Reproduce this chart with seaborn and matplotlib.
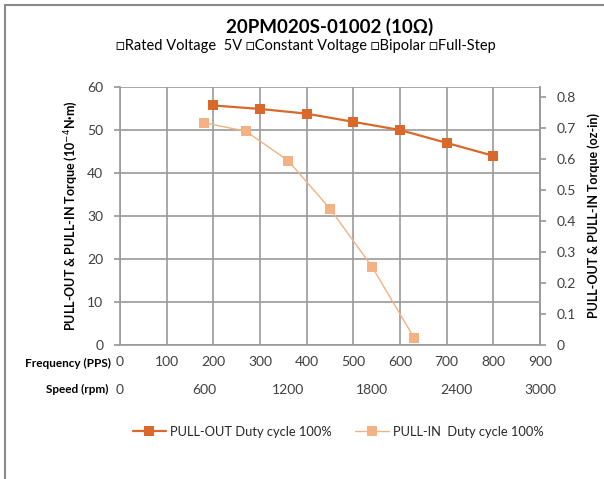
import matplotlib
matplotlib.use("Agg")
import matplotlib.pyplot as plt
import seaborn as sns
import pandas as pd
from matplotlib.lines import Line2D

# ---- data ----
pullout_freq = [200, 300, 400, 500, 600, 700, 800]
pullout_torque = [55.7, 54.9, 53.8, 51.9, 50.0, 47.0, 44.0]
pullin_freq = [180, 270, 360, 450, 540, 630]
pullin_torque = [51.7, 49.7, 42.9, 31.7, 18.2, 1.7]
freq_ticks = [0, 100, 200, 300, 400, 500, 600, 700, 800, 900]
speed_ticks = [0, 600, 1200, 1800, 2400, 3000]
torque_ticks = [0, 10, 20, 30, 40, 50, 60]
oz_ticks = [0, 0.1, 0.2, 0.3, 0.4, 0.5, 0.6, 0.7, 0.8]
title = "20PM020S-01002 (10Ω)"
subtitle = "□Rated Voltage  5V □Constant Voltage □Bipolar □Full-Step"
series_names = ["PULL-OUT Duty cycle 100%", "PULL-IN  Duty cycle 100%"]

sns.set_theme(style="white")
plt.rcParams['font.family'] = ['Lato', 'DejaVu Sans']

W, H = 604, 479
fig = plt.figure(figsize=(W / 100, H / 100), dpi=100)
L, R, T, B = 120, 540, 87, 345
ax = fig.add_axes([L / W, 1 - B / H, (R - L) / W, (B - T) / H])

c_out = "#D9692B"
c_in = "#F4B183"
grid_c = "#9a9a9a"
txt_c = "#404040"

df_out = pd.DataFrame({"f": pullout_freq, "t": pullout_torque})
df_in = pd.DataFrame({"f": pullin_freq, "t": pullin_torque})
sns.lineplot(data=df_out, x="f", y="t", ax=ax, color=c_out, lw=1.6,
             marker="s", markersize=7, markeredgewidth=0, zorder=4)
sns.lineplot(data=df_in, x="f", y="t", ax=ax, color=c_in, lw=1.0,
             marker="s", markersize=7, markeredgewidth=0, zorder=3)

ax.set_xlim(0, 900)
ax.set_ylim(0, 60)
ax.set_xticks(freq_ticks)
ax.set_yticks(torque_ticks)
ax.set_xlabel("")
ax.set_ylabel("PULL-OUT & PULL-IN Torque (10$^{-4}$N·m)", fontsize=9,
              fontweight="bold", color="black", labelpad=5)
ax.grid(True, color=grid_c, lw=1.2)
ax.set_axisbelow(True)
ax.spines["top"].set_visible(False)
for s in ["left", "bottom", "right"]:
    ax.spines[s].set_color(grid_c)
    ax.spines[s].set_linewidth(1.2)
ax.tick_params(axis="y", length=4, color=grid_c, labelsize=10, labelcolor=txt_c, pad=8, left=True)
ax.tick_params(axis="x", length=0, labelsize=10, labelcolor=txt_c, pad=8)

k = 0.833 / 60
sec_y = ax.secondary_yaxis("right", functions=(lambda y: y * k, lambda y: y / k))
sec_y.set_yticks(oz_ticks)
sec_y.set_yticklabels(["0"] + [f"{v:.1f}" for v in oz_ticks[1:]])
sec_y.tick_params(length=4, color=grid_c, labelsize=10, labelcolor=txt_c, pad=8)
sec_y.spines["right"].set_color(grid_c)
sec_y.set_ylabel("PULL-OUT & PULL-IN Torque (oz-in)", fontsize=9,
                 fontweight="bold", color="black", labelpad=8)

sec_x = ax.secondary_xaxis("bottom", functions=(lambda f: f * 10 / 3, lambda s: s * 0.3))
sec_x.set_xticks(speed_ticks)
sec_x.tick_params(length=0, labelsize=10, labelcolor=txt_c, pad=28)
sec_x.spines["bottom"].set_visible(False)

fig.text(111 / W, 1 - 363 / H, "Frequency (PPS)", ha="right", va="center",
         fontsize=8.5, fontweight="bold", color="black")
fig.text(108 / W, 1 - 389 / H, "Speed (rpm)", ha="right", va="center",
         fontsize=8.5, fontweight="bold", color="black")

fig.text(330 / W, 1 - 27 / H, title, ha="center", va="center",
         fontsize=13.5, fontweight="bold", color="black")
fig.text(306 / W, 1 - 46 / H, subtitle, ha="center", va="center",
         fontsize=10.5, color="black", family=['Lato', 'DejaVu Sans'])

handles = [Line2D([], [], color=c_out, lw=1.6, marker="s", markersize=7, markeredgewidth=0),
           Line2D([], [], color=c_in, lw=1.0, marker="s", markersize=7, markeredgewidth=0)]
fig.legend(handles, series_names, loc="center", bbox_to_anchor=(338 / W, 1 - 432 / H),
           ncol=2, frameon=False, fontsize=9.3, columnspacing=1.8, handlelength=2.6,
           handletextpad=0.3)

# outer frame lines (top and left)
fig.add_artist(Line2D([5 / W, 1], [1 - 4.5 / H, 1 - 4.5 / H], transform=fig.transFigure,
                      color="#8a8a8a", lw=1.5))
fig.add_artist(Line2D([5 / W, 5 / W], [0, 1 - 4.5 / H], transform=fig.transFigure,
                      color="#8a8a8a", lw=1.5))

fig.savefig("out.png", dpi=100)
